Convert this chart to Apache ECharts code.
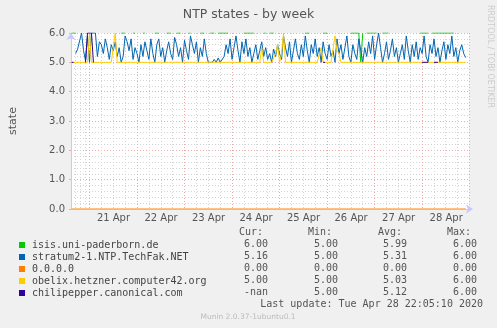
<!DOCTYPE html>
<html><head><meta charset="utf-8">
<script src="https://cdn.jsdelivr.net/npm/echarts@6/dist/echarts.min.js"></script>
<style>html,body{margin:0;padding:0;background:#f0f0f0}#c{width:497px;height:328px}</style>
</head><body><div id="c"></div><script>
// ---- data ----
const title = 'NTP states - by week';
const seriesNames = ['isis.uni-paderborn.de', 'stratum2-1.NTP.TechFak.NET', '0.0.0.0', 'obelix.hetzner.computer42.org', 'chilipepper.canonical.com'];
const curVals = ['6.00', '5.16', '0.00', '5.00', '-nan'];
const minVals = ['5.00', '5.00', '0.00', '5.00', '5.00'];
const avgVals = ['5.99', '5.31', '0.00', '5.03', '5.12'];
const maxVals = ['6.00', '6.00', '0.00', '6.00', '6.00'];
const yTicks = [0, 1, 2, 3, 4, 5, 6];
const lastUpdate = 'Last update: Tue Apr 28 22:05:10 2020';
const footer = 'Munin 2.0.37-1ubuntu0.1';
// hourly samples starting Apr 20 2020 15:00
const isis = [
6,6,6,null,null,null,null,null,null,null,
null,null,null,null,null,null,null,null,null,null,
null,null,null,null,null,6,6,6,null,null,
null,6,6,null,null,null,6,6,null,null,
null,null,6,6,6,null,null,null,6,6,
6,null,null,6,6,6,null,null,null,6,
6,null,null,null,null,6,6,6,null,null,
6,6,6,null,6,6,6,6,6,6,
null,null,null,null,null,null,null,6,6,6,
6,6,6,null,null,null,null,6,6,null,
6,6,6,null,null,null,null,null,null,null,
null,null,null,null,null,null,null,null,6,6,
6,null,null,null,null,null,null,6,6,6,
null,null,null,null,null,null,null,null,null,null,
null,6,6,6,6,6,5,6,null,6,
6,6,6,6,6,null,null,6,6,6,
6,null,null,null,null,null,null,null,null,null,
null,null,null,null,null,null,6,6,6,6,
6,null,6,6,6,6,6,6,6,6,
6,6,6,6,null,null,null,null,null,null];
const stratum = [
null,null,5.3,5.45,5.5,6.0,5.4,5.05,5.9,5.0,
6.0,6.0,6.0,5.2,5.7,5.6,5.3,5.8,5.5,5.1,
5.6,5.4,5.7,5.2,5.5,5.0,5.2,5.9,5.7,5.4,
5.8,5.1,5.5,5.3,5.0,5.6,5.2,5.7,5.4,5.1,
5.8,5.3,5.0,5.6,5.8,5.2,5.5,5.0,5.4,5.7,
5.3,5.1,5.85,5.6,5.2,5.5,5.0,5.75,5.4,5.1,
5.9,5.6,5.3,5.7,5.0,5.5,5.2,5.8,5.3,5.0,
5.05,5.0,5.1,5.0,5.15,5.0,5.05,5.2,5.6,5.3,
5.8,5.1,5.5,5.9,5.4,5.0,5.7,5.3,5.8,5.2,
5.5,5.0,5.3,5.6,5.1,5.4,5.7,5.2,5.5,5.1,
5.3,5.0,5.45,5.2,5.6,5.3,5.1,5.9,5.5,5.2,
5.7,5.0,5.4,5.8,5.3,5.1,5.6,5.2,5.9,5.4,
5.0,5.6,5.3,5.8,5.2,5.5,5.0,5.7,5.3,5.1,
5.6,5.2,5.4,5.0,5.8,5.3,5.6,5.1,5.5,5.9,
5.2,5.0,5.6,5.3,5.1,5.8,5.4,5.0,5.5,5.2,
5.7,5.3,5.9,5.1,5.6,6.0,5.5,5.0,5.3,5.7,
5.1,5.4,5.8,5.2,5.5,5.0,5.3,5.6,5.1,5.9,
5.4,5.0,5.6,5.2,5.7,5.1,5.5,5.3,5.9,5.2,
5.0,5.6,5.3,5.8,5.2,5.5,5.0,5.4,5.7,5.1,
5.6,5.3,5.9,5.2,5.5,5.0,5.4,5.6,5.3,5.16];
const zeroHost = [
0,0,0,0,0,0,0,0,0,0, 0,0,0,0,0,0,0,0,0,0,
0,0,0,0,0,0,0,0,0,0, 0,0,0,0,0,0,0,0,0,0,
0,0,0,0,0,0,0,0,0,0, 0,0,0,0,0,0,0,0,0,0,
0,0,0,0,0,0,0,0,0,0, 0,0,0,0,0,0,0,0,0,0,
0,0,0,0,0,0,0,0,0,0, 0,0,0,0,0,0,0,0,0,0,
0,0,0,0,0,0,0,0,0,0, 0,0,0,0,0,0,0,0,0,0,
0,0,0,0,0,0,0,0,0,0, 0,0,0,0,0,0,0,0,0,0,
0,0,0,0,0,0,0,0,0,0, 0,0,0,0,0,0,0,0,0,0,
0,0,0,0,0,0,0,0,0,0, 0,0,0,0,0,0,0,0,0,0,
0,0,0,0,0,0,0,0,0,0, 0,0,0,0,0,0,0,0,0,0];
const obelix = [
5,5,5,5,5,5,5,5,5,6,
5,5,5,5,5,5,5,5,5,5,
5,5,6,5,5,5,5,5,5,5,
5,5,5,5,5,5,5,5,5,5,
5,5,5,5,5,5,5,5,5,5,
5,5,5,5,5,5,5,5,5,5,
5,5,5,5,5,5,5,5,5,5,
5,5,5,5,5,5,5,5,5,5,
5,5,5,5,5,5,5,5,5,5,
5,5,5,5,5,5,5.5,5,5,5,
5,5,5,5.3,5.6,5,5.3,6,5,5,
5,5,5,5,5,5,5,5,5,5,
5,5,5,5,5,5,5.5,5,5,5,
5,5,5,5.9,5.4,5.3,5,5,5,5,
5,5,5,5,5,5,5,5,5,5,
5,5,5,5,5,5,5,5,5,5,
5,5,5,5,5,5,5,5,5,5,
5,5,5,5,5,5,5,5,5,5,
5,5,5,5,5,5,5,5,5,5,
5,5,5,5,5,5,5,5,5,5];
const chilipepper = [
5,5,null,null,null,null,null,5,6,6,
6,5,null,null,null,null,null,null,null,null,
null,null,null,null,null,null,null,null,null,null,
null,null,null,null,null,null,null,null,null,null,
null,null,null,null,null,null,null,null,null,null,
null,null,null,null,null,null,null,null,null,null,
null,null,null,null,null,null,null,null,null,null,
null,null,null,null,null,null,null,null,null,null,
null,null,null,null,null,null,null,null,null,null,
null,null,null,null,null,null,null,null,null,null,
null,null,null,null,null,null,null,null,null,null,
null,null,null,null,null,null,null,null,null,null,
null,null,null,null,null,null,null,5,5,null,
null,null,null,null,null,null,null,null,null,null,
null,null,null,null,null,null,null,null,null,null,
null,null,null,null,null,null,null,null,null,null,
null,null,null,null,null,null,null,null,null,null,
null,null,null,null,null,null,null,5,5,5,
5,null,null,5,5,5,null,null,null,null,
null,null,null,null,null,null,null,null,null,null];
const seriesValues = [isis, stratum, zeroHost, obelix, chilipepper];
const seriesColors = ['#00CC00', '#0066B3', '#FF8000', '#FFCC00', '#330099'];

const HOUR = 3600000;
const t0 = new Date(2020, 3, 20, 15, 0, 0).getTime();
const xMin = new Date(2020, 3, 20, 14, 40, 0).getTime();
const xMax = new Date(2020, 3, 28, 23, 40, 0).getTime();
const MON = ['Jan','Feb','Mar','Apr','May','Jun','Jul','Aug','Sep','Oct','Nov','Dec'];

const chart = echarts.init(document.getElementById('c'), null, {renderer: 'canvas'});
const mono = 'DejaVu Sans Mono';
const txtColor = '#555';
const rowY = [244, 256, 268, 280, 292];
const graphics = [];
const cols = [[curVals, 268, 'Cur:', 263], [minVals, 338, 'Min:', 332], [avgVals, 407, 'Avg:', 402], [maxVals, 477, 'Max:', 471]];
cols.forEach(function (c) {
  graphics.push({type: 'text', x: c[3], y: 232, style: {text: c[2], font: '10px ' + mono, fill: txtColor, align: 'right', verticalAlign: 'middle'}});
  c[0].forEach(function (v, i) {
    graphics.push({type: 'text', x: c[1], y: rowY[i], style: {text: v, font: '10px ' + mono, fill: txtColor, align: 'right', verticalAlign: 'middle'}});
  });
});
graphics.push({type: 'text', x: 483, y: 304, style: {text: lastUpdate, font: '10px ' + mono, fill: txtColor, align: 'right', verticalAlign: 'middle'}});
graphics.push({type: 'text', x: 248, y: 317, style: {text: footer, font: '7.5px "DejaVu Sans"', fill: '#bbbbbb', align: 'center', verticalAlign: 'middle'}});
graphics.push({type: 'text', x: 490, y: 5, rotation: -Math.PI / 2, style: {text: 'RRDTOOL / TOBI OETIKER', font: '8px "DejaVu Sans"', fill: '#cccccc', align: 'left', verticalAlign: 'middle'}});

const option = {
  animation: false,
  backgroundColor: '#f0f0f0',
  title: {text: title, left: 'center', top: 3, textStyle: {fontFamily: 'DejaVu Sans', fontSize: 12.5, fontWeight: 'normal', color: '#555'}},
  grid: {left: 67, right: 28, top: 33, bottom: 119, show: true, backgroundColor: '#ffffff', borderWidth: 0},
  legend: {
    orient: 'vertical', left: 14, top: 234, itemWidth: 6, itemHeight: 6, itemGap: 0, icon: 'rect', selectedMode: false,
    textStyle: {fontFamily: mono, fontSize: 10, color: '#444', lineHeight: 12, padding: [0, 0, 0, 2]},
    data: seriesNames
  },
  xAxis: {
    type: 'time', min: xMin, max: xMax, minInterval: 24 * HOUR, maxInterval: 24 * HOUR, splitNumber: 8,
    axisLine: {show: true, lineStyle: {color: '#c8c8ff'}, symbol: ['none', 'arrow'], symbolSize: [7, 7], symbolOffset: [0, 4]},
    axisTick: {show: false},
    axisLabel: {
      fontFamily: 'DejaVu Sans', fontSize: 10, color: '#555', margin: 4, padding: [0, 0, 0, 48], showMinLabel: false, showMaxLabel: false,
      formatter: function (v) { const d = new Date(v); return d.getDate() + ' ' + MON[d.getMonth()]; }
    },
    splitLine: {show: true, lineStyle: {color: '#eeaaaa', type: [1, 2], width: 1}},
    minorTick: {show: false, splitNumber: 4},
    minorSplitLine: {show: true, lineStyle: {color: '#d4d4d4', type: [1, 2], width: 1}}
  },
  yAxis: {
    type: 'value', min: 0, max: 6, interval: 1,
    name: 'state', nameLocation: 'middle', nameGap: 52, nameRotate: 90,
    nameTextStyle: {fontFamily: 'DejaVu Sans', fontSize: 11, color: '#555'},
    axisLine: {show: true, lineStyle: {color: '#c8c8ff'}, symbol: ['none', 'arrow'], symbolSize: [7, 7]},
    axisTick: {show: true, length: 2, lineStyle: {color: '#eeaaaa'}},
    axisLabel: {fontFamily: 'DejaVu Sans', fontSize: 10, color: '#555', margin: 6, formatter: function (v) { return v.toFixed(1); }},
    splitLine: {show: true, lineStyle: {color: '#eeaaaa', type: [1, 2], width: 1}},
    minorTick: {show: false, splitNumber: 5},
    minorSplitLine: {show: true, lineStyle: {color: '#d4d4d4', type: [1, 2], width: 1}}
  },
  series: seriesNames.map(function (name, k) {
    return {
      name: name, type: 'line', showSymbol: false, symbol: 'none', connectNulls: false,
      color: seriesColors[k], lineStyle: {width: 1, color: seriesColors[k]},
      data: seriesValues[k].map(function (v, i) { return [t0 + i * HOUR, v]; })
    };
  }),
  graphic: graphics
};
chart.setOption(option);
</script></body></html>
